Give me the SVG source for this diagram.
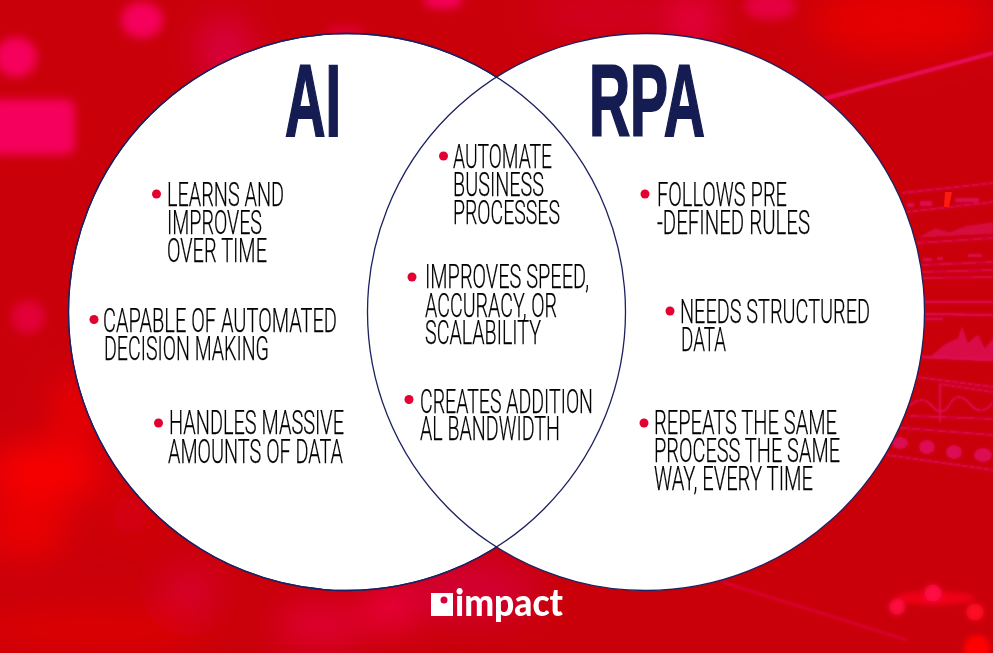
<svg xmlns="http://www.w3.org/2000/svg" width="993" height="653" viewBox="0 0 993 653">
<style>
.t{font-family:"Roboto","Liberation Sans",sans-serif;font-weight:300;font-size:33px;fill:#000;stroke:#000;stroke-width:.25}
.h{font-family:"Liberation Sans",Arial,sans-serif;font-weight:700;font-size:102px;fill:#141c52;stroke:#141c52;stroke-width:2}
.b{fill:#e4002f}
.c{fill:#fff;stroke:#1c2260;stroke-width:1.3}
.o{fill:none;stroke:#1c2260;stroke-width:1.3}
.p{fill:#f5005c}
.l{stroke:#dc0a52;fill:none;stroke-width:2}
.f{fill:#dc0a52}
</style>
<defs>
<filter id="b1" x="-20%" y="-20%" width="140%" height="140%"><feGaussianBlur stdDeviation="0.8"/></filter>
<filter id="b2" x="-50%" y="-50%" width="200%" height="200%"><feGaussianBlur stdDeviation="2.500"/></filter>
<filter id="b6" x="-50%" y="-50%" width="200%" height="200%"><feGaussianBlur stdDeviation="5"/></filter>
<filter id="b20" x="-80%" y="-80%" width="260%" height="260%"><feGaussianBlur stdDeviation="18"/></filter>
</defs>
<g id="background">
<rect width="993" height="653" fill="#c9000a"/>
<g filter="url(#b20)">
<ellipse cx="900" cy="20" rx="90" ry="35" fill="#e60000"/>
<ellipse cx="45" cy="472" rx="60" ry="28" fill="#fa0000"/>
<ellipse cx="74" cy="410" rx="18" ry="35" fill="#f20000"/>
<ellipse cx="25" cy="530" rx="45" ry="30" fill="#ea0000"/>
<ellipse cx="90" cy="630" rx="120" ry="20" fill="#de0000"/>
<ellipse cx="130" cy="515" rx="20" ry="25" fill="#dc0008"/>
<ellipse cx="190" cy="590" rx="28" ry="22" fill="#dc0030"/>
<ellipse cx="320" cy="625" rx="45" ry="20" fill="#e20038"/>
<ellipse cx="390" cy="608" rx="25" ry="20" fill="#f40048"/>
<ellipse cx="470" cy="590" rx="70" ry="30" fill="#d20030"/>
<ellipse cx="225" cy="50" rx="25" ry="32" fill="#dc0048"/>
<ellipse cx="600" cy="15" rx="70" ry="12" fill="#d80030"/>
<ellipse cx="693" cy="20" rx="24" ry="24" fill="#ee0050"/>
</g>
<g class="p" filter="url(#b6)">
<ellipse cx="142" cy="20" rx="21" ry="18"/>
<ellipse cx="16" cy="57" rx="21" ry="20"/>
<rect x="-10" y="99" width="85" height="56" rx="10"/>
<ellipse cx="443" cy="0" rx="20" ry="9"/>
<ellipse cx="770" cy="6" rx="26" ry="14" opacity=".65"/>
<ellipse cx="28" cy="317" rx="17" ry="17" opacity=".55"/>
<ellipse cx="345" cy="32" rx="20" ry="6" opacity=".5"/>
</g>
<path d="M823 99 993 53" stroke="#e8105a" stroke-width="4" fill="none" filter="url(#b1)"/>
<path d="M722 582 907 640" stroke="#dc0035" stroke-width="2.500" fill="none" filter="url(#b1)"/>
<g filter="url(#b1)">
<g class="l">
<path d="M902 193 993 183M907 212 993 202M917 243 993 238M922 265 993 262M922 272 993 270M922 278 993 277"/>
<path d="M925 302H993M925 314 993 315M925 319H943" stroke-width="2.500"/>
<path d="M922 357 993 360" stroke-width="3"/>
<path d="M917 377 993 387M940 384V422M940 384 993 392M890 427 993 435M887 455 993 470"/>
<path d="M910 406q12-12 22 0t18-2 20 0 23-2M910 416 993 419"/>
</g>
<path class="f" d="M917 238 935 228 950 232 965 226 993 222V234Z" opacity=".7"/>
<path class="f" d="M930 357 945 344 958 338 962 326 968 343 978 334 985 348 995 336V359Z" opacity=".85"/>
<g class="f"><rect x="907" y="203" width="7" height="4"/><rect x="920" y="201" width="12" height="5"/><rect x="955" y="198" width="24" height="4"/>
<rect x="923" y="258" width="9" height="3"/><rect x="937" y="257" width="6" height="3"/><rect x="968" y="254" width="14" height="3"/></g>
<ellipse class="f" cx="900" cy="443" rx="8" ry="6"/><ellipse class="f" cx="927" cy="447" rx="8" ry="7"/><ellipse class="f" cx="954" cy="452" rx="8" ry="7"/><ellipse class="f" cx="983" cy="455" rx="9" ry="7"/>
</g>
<path d="M945 192h7l-3 15h-5z" fill="#ff1a10"/>
<g filter="url(#b2)">
<ellipse cx="935" cy="598" rx="40" ry="7" fill="#ee0018"/>
<circle cx="897" cy="607" r="8" fill="#ff1040"/>
<circle cx="933" cy="593" r="9" fill="#ff0845"/>
<circle cx="975" cy="612" r="9" fill="#ff0a20"/>
<circle cx="977" cy="648" r="13" fill="#ff0000"/>
</g>
</g>
<g id="circle-ai"><circle class="c" cx="347" cy="312" r="278.5"/></g>
<g id="circle-rpa"><circle class="c" cx="646" cy="312" r="278.5"/></g>
<g id="overlap"><circle class="o" cx="347" cy="312" r="278.5"/></g>
<g id="title-ai"><text class="h" x="285" y="135.500" textLength="56" lengthAdjust="spacingAndGlyphs">AI</text></g>
<g id="title-rpa"><text class="h" x="589" y="135.500" textLength="116" lengthAdjust="spacingAndGlyphs">RPA</text></g>
<g id="ai-1"><circle class="b" cx="156.500" cy="194" r="4.500"/>
<text class="t" x="167" y="205.500" textLength="117" lengthAdjust="spacingAndGlyphs">LEARNS AND</text>
<text class="t" x="167" y="233.500" textLength="95" lengthAdjust="spacingAndGlyphs">IMPROVES</text>
<text class="t" x="167" y="261.500" textLength="100" lengthAdjust="spacingAndGlyphs">OVER TIME</text></g>
<g id="ai-2"><circle class="b" cx="94" cy="319.500" r="4.500"/>
<text class="t" x="103" y="331.500" textLength="234" lengthAdjust="spacingAndGlyphs">CAPABLE OF AUTOMATED</text>
<text class="t" x="104" y="359.500" textLength="165" lengthAdjust="spacingAndGlyphs">DECISION MAKING</text></g>
<g id="ai-3"><circle class="b" cx="158.500" cy="423" r="4.500"/>
<text class="t" x="169" y="434" textLength="175" lengthAdjust="spacingAndGlyphs">HANDLES MASSIVE</text>
<text class="t" x="168" y="462.500" textLength="175" lengthAdjust="spacingAndGlyphs">AMOUNTS OF DATA</text></g>
<g id="both-1"><circle class="b" cx="443.500" cy="156" r="4.500"/>
<text class="t" x="453" y="168" textLength="99" lengthAdjust="spacingAndGlyphs">AUTOMATE</text>
<text class="t" x="453" y="195.500" textLength="91" lengthAdjust="spacingAndGlyphs">BUSINESS</text>
<text class="t" x="453" y="223.500" textLength="107" lengthAdjust="spacingAndGlyphs">PROCESSES</text></g>
<g id="both-2"><circle class="b" cx="412" cy="277" r="4.500"/>
<text class="t" x="425" y="288" textLength="164" lengthAdjust="spacingAndGlyphs">IMPROVES SPEED,</text>
<text class="t" x="425" y="316.500" textLength="132" lengthAdjust="spacingAndGlyphs">ACCURACY, OR</text>
<text class="t" x="425" y="344" textLength="116" lengthAdjust="spacingAndGlyphs">SCALABILITY</text></g>
<g id="both-3"><circle class="b" cx="409" cy="399.500" r="4.500"/>
<text class="t" x="420" y="412.500" textLength="173" lengthAdjust="spacingAndGlyphs">CREATES ADDITION</text>
<text class="t" x="420" y="440" textLength="140" lengthAdjust="spacingAndGlyphs">AL BANDWIDTH</text></g>
<g id="rpa-1"><circle class="b" cx="645" cy="194" r="4.500"/>
<text class="t" x="657" y="205.500" textLength="130" lengthAdjust="spacingAndGlyphs">FOLLOWS PRE</text>
<text class="t" x="657" y="233.500" textLength="153" lengthAdjust="spacingAndGlyphs">-DEFINED RULES</text></g>
<g id="rpa-2"><circle class="b" cx="670" cy="311" r="4.500"/>
<text class="t" x="680" y="322.500" textLength="190" lengthAdjust="spacingAndGlyphs">NEEDS STRUCTURED</text>
<text class="t" x="681" y="350.500" textLength="45" lengthAdjust="spacingAndGlyphs">DATA</text></g>
<g id="rpa-3"><circle class="b" cx="644" cy="423" r="4.500"/>
<text class="t" x="654" y="433.500" textLength="183" lengthAdjust="spacingAndGlyphs">REPEATS THE SAME</text>
<text class="t" x="654" y="461.500" textLength="186" lengthAdjust="spacingAndGlyphs">PROCESS THE SAME</text>
<text class="t" x="654" y="489.500" textLength="159" lengthAdjust="spacingAndGlyphs">WAY, EVERY TIME</text></g>
<g id="logo"><rect x="431" y="593" width="22" height="23" fill="#fff"/><circle cx="444" cy="600" r="3.500" fill="#d6003a"/>
<text x="455" y="616" font-family="Lato,'Open Sans',sans-serif" font-weight="900" font-size="37" fill="#fff" textLength="108" lengthAdjust="spacingAndGlyphs">impact</text></g>
</svg>
